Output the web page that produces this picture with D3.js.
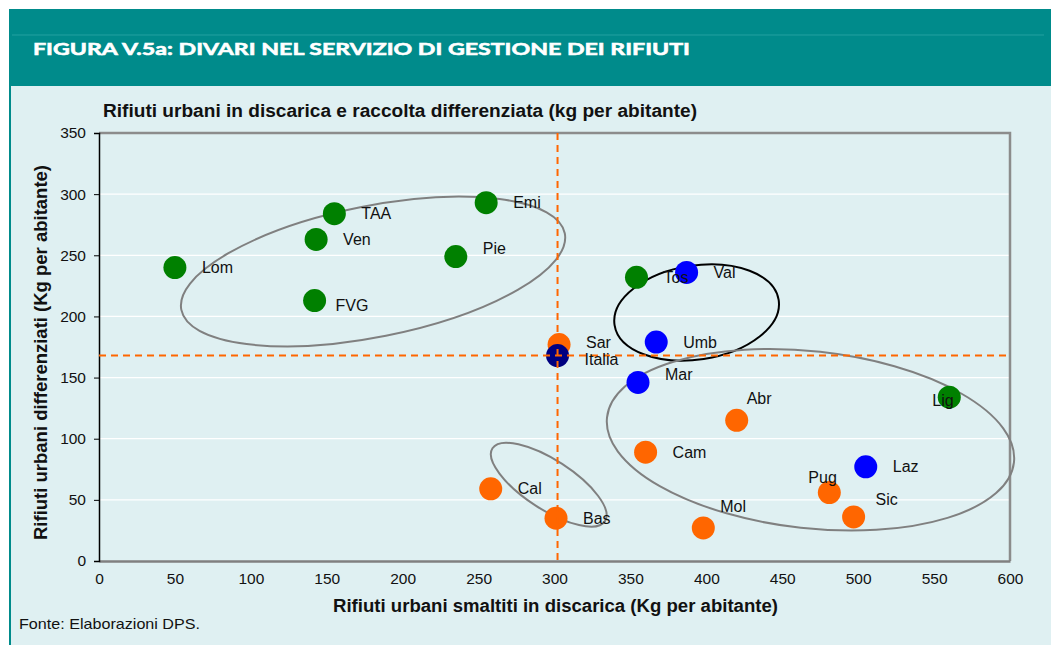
<!DOCTYPE html>
<html>
<head>
<meta charset="utf-8">
<script src="https://cdn.jsdelivr.net/npm/d3@7"></script>
<style>
  body { margin: 0; background: #fff; }
  svg text { font-family: "Liberation Sans", Arial, sans-serif; }
</style>
</head>
<body>
<svg id="chart" width="1051" height="645"></svg>
<script>
// regions (Excel data labels)
var regions  = ["Lom","FVG","Ven","TAA","Emi","Pie","Tos","Val","Umb","Sar","Mar","Lig","Abr","Cam","Laz","Pug","Sic","Mol","Cal","Bas","Italia"];
// rifiuti smaltiti in discarica (kg per abitante)
var landfill = [50, 142, 143, 155, 255, 235, 354, 387, 367, 303, 355, 560, 420, 360, 505, 481, 497, 398, 258, 301, 302];
// raccolta differenziata (kg per abitante)
var sorted   = [240, 213, 263, 284, 293, 249, 232, 236, 179, 177, 146, 134, 115, 89, 77, 56, 36, 27, 59, 35, 168];
// group: 0 = nord, 1 = centro, 2 = sud, 3 = media Italia
var groups   = [0, 0, 0, 0, 0, 0, 0, 1, 1, 2, 1, 0, 2, 2, 1, 2, 2, 2, 2, 2, 3];

var xTicks = [0, 50, 100, 150, 200, 250, 300, 350, 400, 450, 500, 550, 600];
var yTicks = [0, 50, 100, 150, 200, 250, 300, 350];

var colors = ["#008000", "#0000ff", "#ff6600", "#000080"];

// label placement, default is right of the point
var labelOff = {
  Pie: [27, -8], Mar: [27, -8], FVG: [21, 5], Abr: [10, -22], Pug: [-21, -15],
  Sic: [22, -18], Mol: [17, -22], Lig: [-17, 3], Sar: [27, -2], Italia: [27, 4]
};

// hand drawn ellipses (centre in data units, radii in px, rotation deg)
var ellipses = [
  {cx: 180.5, cy: 236.7, rx: 195.5, ry: 65.5, rot: -11.3, stroke: "#808080"},
  {cx: 393.6, cy: 203.2, rx: 83, ry: 47, rot: -8.7, stroke: "#000000"},
  {cx: 468.6, cy: 99.1, rx: 204.7, ry: 88.5, rot: 6.3, stroke: "#808080"},
  {cx: 296.2, cy: 62.4, rx: 67, ry: 24.7, rot: 32.9, stroke: "#808080"}
];

var svg = d3.select('#chart');

// frame
svg.append("rect").attr("x", 9).attr("y", 9).attr("width", 1042).attr("height", 77).attr("fill", "#008b8b");
svg.append("line").attr("x1", 12).attr("x2", 1044).attr("y1", 35).attr("y2", 35)
  .attr("stroke", "#23a0a0").attr("stroke-width", 1);
svg.append("text")
  .attr("x", 33).attr("y", 55)
  .attr("fill", "#fff")
  .attr("font-size", 17).attr("font-weight", "bold")
  .attr("stroke", "#fff").attr("stroke-width", 0.6)
  .style("font-family", "Lato, 'DejaVu Sans', sans-serif")
  .attr("textLength", 657).attr("lengthAdjust", "spacingAndGlyphs")
  .text("FIGURA V.5a: DIVARI NEL SERVIZIO DI GESTIONE DEI RIFIUTI");
svg.append("rect").attr("x", 9).attr("y", 86).attr("width", 1042).attr("height", 559).attr("fill", "#dff0f2");
svg.append("rect").attr("x", 9).attr("y", 86).attr("width", 2).attr("height", 559).attr("fill", "#008b8b");

var _margin = {top: 133, left: 99};
var _width = 911, _height = 428;
var canvas = svg.append("g").attr("transform", `translate(${_margin.left}, ${_margin.top})`);

var x = d3.scaleLinear().domain([0, 600]).range([0, _width]);
var y = d3.scaleLinear().domain([0, 350]).range([_height, 0]);

// gridlines
canvas.append("g").selectAll("line")
  .data(yTicks.slice(1, -1))
  .enter().append("line")
  .attr("x1", 0).attr("x2", _width)
  .attr("y1", (d) => y(d)).attr("y2", (d) => y(d))
  .attr("stroke", "#ffffff").attr("stroke-width", 1.2);

// plot border top / right
canvas.append("path")
  .attr("d", `M0,0H${_width}V${_height}`)
  .attr("fill", "none").attr("stroke", "#8c8c8c").attr("stroke-width", 2.5);

var narrow = "'Liberation Sans Narrow', 'Liberation Sans', Arial, sans-serif";

var ax = d3.axisBottom(x).tickValues(xTicks).tickSize(0).tickPadding(12);
var ay = d3.axisLeft(y).tickValues(yTicks).tickSize(5).tickPadding(8);

var gx = canvas.append("g")
  .attr("transform", `translate(0, ${_height})`)
  .call(ax);
gx.select(".domain").attr("stroke", "#808080").attr("stroke-width", 2.5);
gx.selectAll("text").attr("font-size", 15.5).attr("fill", "#111").style("font-family", narrow);

var gy = canvas.append("g").call(ay);
gy.select(".domain").attr("stroke", "#000").attr("stroke-width", 1.5);
gy.selectAll(".tick line").attr("stroke", "#000");
gy.selectAll("text").attr("font-size", 15.5).attr("fill", "#111").style("font-family", narrow);

// ellipses
canvas.append("g").selectAll("ellipse")
  .data(ellipses)
  .enter().append("ellipse")
  .attr("transform", (d) => `translate(${x(d.cx)}, ${y(d.cy)}) rotate(${d.rot})`)
  .attr("rx", (d) => d.rx).attr("ry", (d) => d.ry)
  .attr("fill", "none")
  .attr("stroke", (d) => d.stroke)
  .attr("stroke-width", 2);

var _data = regions.map(function(r, i) {
  return {name: r, lx: landfill[i], ld: sorted[i], g: groups[i]};
});

canvas.append("g").selectAll("circle")
  .data(_data)
  .enter().append("circle")
  .attr("cx", (d) => x(d.lx))
  .attr("cy", (d) => y(d.ld))
  .attr("r", 11.5)
  .attr("fill", (d) => colors[d.g]);

// reference lines at Italia
var it = regions.indexOf("Italia");
canvas.append("line")
  .attr("x1", x(landfill[it])).attr("x2", x(landfill[it]))
  .attr("y1", 0).attr("y2", _height)
  .attr("stroke", "#ff6600").attr("stroke-width", 2).attr("stroke-dasharray", "7,5");
canvas.append("line")
  .attr("x1", 0).attr("x2", _width)
  .attr("y1", y(sorted[it])).attr("y2", y(sorted[it]))
  .attr("stroke", "#ff6600").attr("stroke-width", 2).attr("stroke-dasharray", "7,5");

canvas.append("g").selectAll("text")
  .data(_data)
  .enter().append("text")
  .text((d) => d.name)
  .attr("x", (d) => x(d.lx) + (labelOff[d.name] ? labelOff[d.name][0] : 27))
  .attr("y", (d) => y(d.ld) + (labelOff[d.name] ? labelOff[d.name][1] : 0))
  .attr("dy", "0.35em")
  .attr("font-size", 16)
  .attr("fill", "#111");

// titles
svg.append("text")
  .attr("x", 103).attr("y", 117)
  .attr("font-size", 18).attr("font-weight", "bold").attr("fill", "#111")
  .attr("textLength", 594).attr("lengthAdjust", "spacingAndGlyphs")
  .text("Rifiuti urbani in discarica e raccolta differenziata (kg per abitante)");

svg.append("text")
  .attr("x", 333).attr("y", 612)
  .attr("font-size", 18).attr("font-weight", "bold").attr("fill", "#111")
  .attr("textLength", 445).attr("lengthAdjust", "spacingAndGlyphs")
  .text("Rifiuti urbani smaltiti in discarica (Kg per abitante)");

svg.append("text")
  .attr("transform", "translate(47, 540) rotate(-90)")
  .attr("font-size", 18).attr("font-weight", "bold").attr("fill", "#111")
  .attr("textLength", 375).attr("lengthAdjust", "spacingAndGlyphs")
  .text("Rifiuti urbani differenziati (Kg per abitante)");

svg.append("text")
  .attr("x", 19).attr("y", 629)
  .attr("font-size", 15).attr("fill", "#111")
  .style("font-family", narrow)
  .attr("textLength", 181).attr("lengthAdjust", "spacingAndGlyphs")
  .text("Fonte: Elaborazioni DPS.");
</script>
</body>
</html>
